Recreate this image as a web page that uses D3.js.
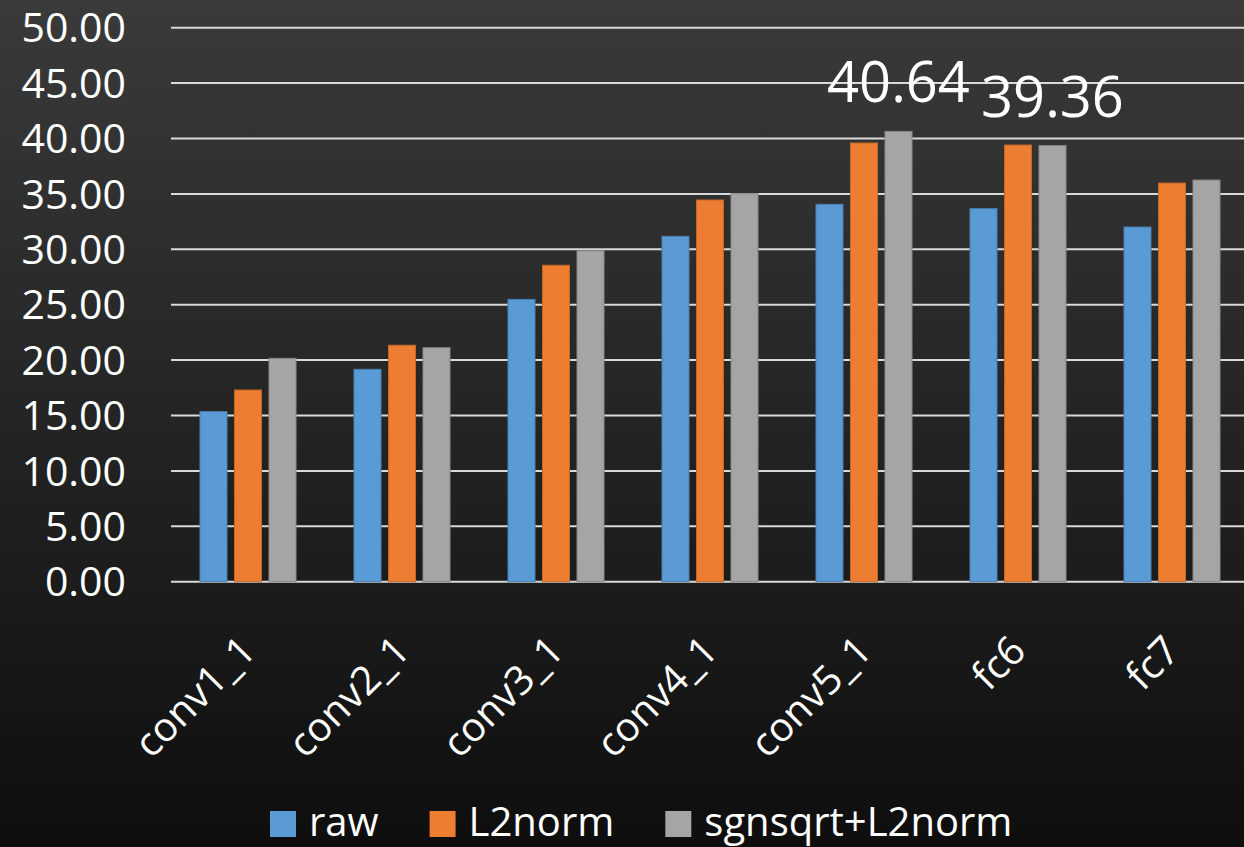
<!DOCTYPE html>
<html>
<head>
<meta charset="utf-8">
<script src="https://cdn.jsdelivr.net/npm/d3@7"></script>
<style>
  html, body { margin: 0; padding: 0; background: #000; }
  svg { display: block; }
  text { font-family: "Open Sans", sans-serif; fill: #fff; }
</style>
</head>
<body>
<svg width="1244" height="847"></svg>
<script>
const categories = ["conv1_1", "conv2_1", "conv3_1", "conv4_1", "conv5_1", "fc6", "fc7"];
const seriesNames = ["raw", "L2norm", "sgnsqrt+L2norm"];
const rawValues = [15.35, 19.17, 25.48, 31.17, 34.06, 33.67, 32.01];
const l2Values = [17.30, 21.34, 28.56, 34.45, 39.59, 39.41, 35.98];
const sgnValues = [20.16, 21.12, 29.87, 35.02, 40.64, 39.36, 36.25];
const yTicks = [0, 5, 10, 15, 20, 25, 30, 35, 40, 45, 50];
// labelled points: [category, series]
const dataLabels = [["conv5_1", "sgnsqrt+L2norm"], ["fc6", "sgnsqrt+L2norm"]];

const colors = ["#5b9bd5", "#ed7d31", "#a5a5a5"];
const borders = ["#4a7fb0", "#c4682a", "#888888"];

const svg = d3.select("svg");
const width = +svg.attr("width");
const height = +svg.attr("height");

// background gradient
const defs = svg.append("defs");
const bg = defs.append("linearGradient")
    .attr("id", "bg")
    .attr("x1", "0%").attr("x2", "0%")
    .attr("y1", "0%").attr("y2", "100%");
bg.append("stop").attr("offset", "0%").attr("stop-color", "#3a3a3a");
bg.append("stop").attr("offset", "100%").attr("stop-color", "#0e0e0e");

svg.append("rect")
    .attr("width", width)
    .attr("height", height)
    .attr("fill", "url(#bg)");

const table = categories.map((c, i) => ({
  cat: c,
  values: [rawValues[i], l2Values[i], sgnValues[i]]
}));

const x0 = d3.scaleBand()
    .domain(categories)
    .range([171, 171 + 154 * categories.length])
    .padding(0);

const x1 = d3.scaleBand()
    .domain(seriesNames)
    .range([0, x0.bandwidth()])
    .paddingInner(0.217)
    .paddingOuter(0.84);

const y = d3.scaleLinear()
    .domain([0, 50])
    .range([581.7, 27.7]);

// gridlines
svg.append("g")
  .selectAll("line")
  .data(yTicks)
  .join("line")
    .attr("x1", 171)
    .attr("x2", width)
    .attr("y1", d => y(d))
    .attr("y2", d => y(d))
    .attr("stroke", "#d9d9d9")
    .attr("stroke-width", 2);

// y tick labels
svg.append("g")
  .selectAll("text")
  .data(yTicks)
  .join("text")
    .attr("x", 126)
    .attr("y", d => y(d))
    .attr("dy", "0.36em")
    .attr("text-anchor", "end")
    .attr("font-size", "41px")
    .text(d => d3.format(".2f")(d));

// bars
const groups = svg.append("g")
  .selectAll("g")
  .data(table)
  .join("g")
    .attr("transform", d => `translate(${x0(d.cat)},0)`);

groups.selectAll("rect")
  .data(d => d.values.map((v, i) => ({ key: seriesNames[i], value: v, i })))
  .join("rect")
    .attr("x", d => x1(d.key))
    .attr("y", d => y(d.value))
    .attr("width", x1.bandwidth())
    .attr("height", d => y(0) - y(d.value))
    .attr("fill", d => colors[d.i])
    .attr("stroke", d => borders[d.i])
    .attr("stroke-width", 1);

// data labels
svg.append("g")
  .selectAll("text")
  .data(dataLabels)
  .join("text")
    .attr("x", d => x0(d[0]) + x1(d[1]) + x1.bandwidth() / 2)
    .attr("y", d => {
      const v = table.find(t => t.cat === d[0]).values[seriesNames.indexOf(d[1])];
      return y(v) - 29;
    })
    .attr("text-anchor", "middle")
    .attr("font-size", "56px")
    .text(d => {
      const v = table.find(t => t.cat === d[0]).values[seriesNames.indexOf(d[1])];
      return d3.format(".2f")(v);
    });

// x axis labels, rotated
svg.append("g")
  .selectAll("text")
  .data(categories)
  .join("text")
    .attr("transform", d => `translate(${x0(d) + x0.bandwidth() / 2 + 10},653) rotate(-45)`)
    .attr("text-anchor", "end")
    .attr("font-size", "40px")
    .text(d => d);

// legend
const legend = svg.append("g");
const items = legend.selectAll("g")
  .data(seriesNames)
  .join("g");
items.append("rect")
    .attr("width", 26)
    .attr("height", 26)
    .attr("y", 811)
    .attr("fill", (d, i) => colors[i]);
items.append("text")
    .attr("x", 39)
    .attr("y", 836)
    .attr("font-size", "40px")
    .text(d => d);

let cursor = 270;
const offsets = [];
items.each(function () {
  const w = this.querySelector("text").getComputedTextLength();
  offsets.push(cursor);
  cursor += 39 + w + 51;
});
items.attr("transform", (d, i) => `translate(${offsets[i]},0)`);
</script>
</body>
</html>
